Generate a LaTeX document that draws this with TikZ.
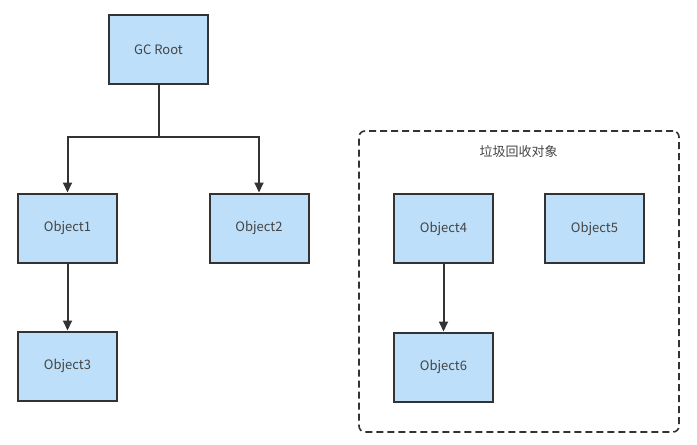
\documentclass[tikz,border=0pt]{standalone}
\usepackage{fontspec}
\setmainfont{Noto Sans CJK SC}
\usetikzlibrary{arrows.meta}
\definecolor{boxfill}{HTML}{BDDFF9}
\definecolor{edge}{HTML}{333333}
\definecolor{txt}{HTML}{444444}
\tikzset{
  objbox/.style={draw=edge, line width=2pt, fill=boxfill, minimum width=99pt, minimum height=69pt, inner sep=0pt, font=\fontsize{13pt}{15pt}\selectfont, text=txt},
  conn/.style={draw=edge, line width=2pt, -{Triangle[length=10pt,width=9pt]}},
}
\begin{document}
\begin{tikzpicture}[x=1pt,y=-1pt]
\useasboundingbox (0,0) rectangle (697,445);
\node[objbox] (gc) at (158.5,49.5) {GC Root};
\node[objbox] (o1) at (67.5,228) {Object1};
\node[objbox] (o2) at (259,228) {Object2};
\node[objbox] (o3) at (67.5,366) {Object3};
\node[draw=edge, line width=1.6pt, dash pattern=on 7pt off 4pt, rounded corners=6pt, minimum width=320pt, minimum height=301pt, inner sep=0pt] (grp) at (519,281.5) {};
\node[font=\fontsize{13pt}{15pt}\selectfont, text=txt] (lbl) at (518.5,152) {垃圾回收对象};
\node[objbox] (o4) at (443.5,228.5) {Object4};
\node[objbox] (o5) at (594.5,228.5) {Object5};
\node[objbox] (o6) at (443.5,367) {Object6};
\coordinate (j) at (158.5,137);
\draw[draw=edge, line width=2pt] (gc.south) -- (j);
\draw[conn] (j) -| (o1.north);
\draw[conn] (j) -| (o2.north);
\draw[conn] (o1) -- (o3);
\draw[conn] (o4) -- (o6);
\end{tikzpicture}
\end{document}
